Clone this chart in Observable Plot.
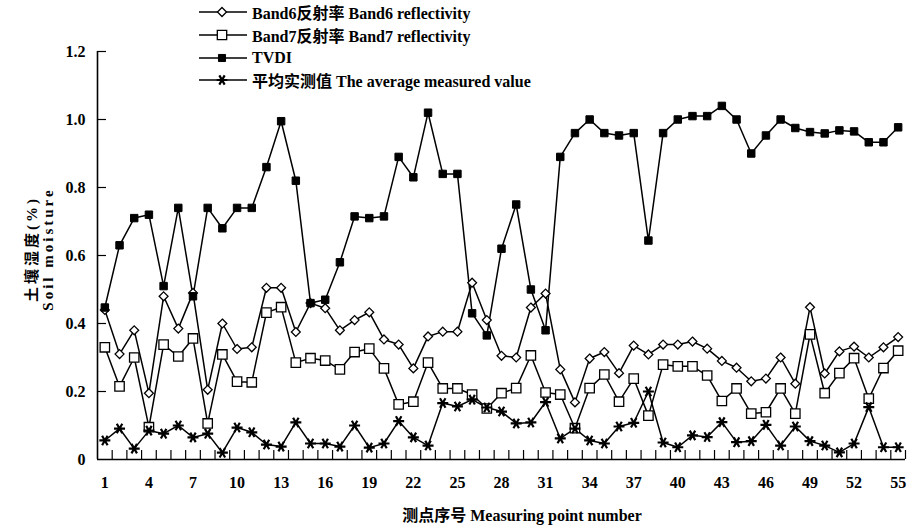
<!DOCTYPE html>
<html><head><meta charset="utf-8">
<script src="https://cdn.jsdelivr.net/npm/d3@7"></script>
<script src="https://cdn.jsdelivr.net/npm/@observablehq/plot@0.6"></script>
<style>
body{margin:0;background:#fff;}
#wrap{position:relative;width:909px;height:526px;font-family:"Liberation Serif","Times New Roman","Noto Sans CJK SC",serif;font-weight:bold;color:#000;}
.legend{position:absolute;left:197px;top:1px;}
.lrow{display:flex;align-items:center;height:22.7px;font-size:16px;white-space:nowrap;}
.lrow svg{margin-right:3px;}
.xtitle{position:absolute;left:522px;top:514px;transform:translate(-50%,-50%);font-size:16px;white-space:nowrap;}
.ytitle{position:absolute;left:40px;top:249px;transform:translate(-50%,-50%) rotate(-90deg);font-size:15px;line-height:16px;letter-spacing:3px;text-align:center;white-space:nowrap;}
</style></head><body><div id="wrap"></div>
<script>
// Measuring point numbers (categories)
const pointNumbers = d3.range(1, 56);
const xTickLabels = [1, 4, 7, 10, 13, 16, 19, 22, 25, 28, 31, 34, 37, 40, 43, 46, 49, 52, 55];
const yTickValues = [0, 0.2, 0.4, 0.6, 0.8, 1.0, 1.2];

const band6 = [0.44,0.31,0.38,0.195,0.48,0.385,0.49,0.205,0.40,0.325,
  0.33,0.505,0.505,0.375,0.46,0.445,0.38,0.41,0.433,0.353,
  0.338,0.268,0.362,0.376,0.376,0.52,0.41,0.305,0.30,0.447,
  0.488,0.265,0.168,0.297,0.316,0.254,0.335,0.309,0.338,0.338,
  0.347,0.326,0.29,0.27,0.23,0.238,0.30,0.223,0.448,0.253,
  0.318,0.332,0.30,0.33,0.36];
const band7 = [0.33,0.215,0.30,0.095,0.338,0.303,0.356,0.106,0.309,0.229,
  0.227,0.432,0.448,0.285,0.298,0.291,0.265,0.316,0.326,0.268,
  0.162,0.17,0.285,0.209,0.209,0.191,0.15,0.195,0.21,0.306,
  0.197,0.191,0.092,0.21,0.25,0.17,0.238,0.129,0.279,0.274,
  0.274,0.247,0.172,0.209,0.135,0.139,0.209,0.135,0.368,0.195,
  0.254,0.298,0.179,0.269,0.32];
const tvdi = [0.447,0.63,0.71,0.72,0.51,0.74,0.48,0.74,0.68,0.74,
  0.74,0.86,0.995,0.82,0.46,0.47,0.58,0.715,0.71,0.715,
  0.89,0.83,1.02,0.84,0.84,0.43,0.365,0.62,0.75,0.50,
  0.38,0.89,0.96,1.0,0.96,0.953,0.96,0.644,0.96,1.0,
  1.01,1.01,1.04,1.0,0.90,0.953,1.0,0.975,0.963,0.959,
  0.968,0.965,0.933,0.933,0.977];
const measured = [0.056,0.091,0.032,0.085,0.076,0.10,0.065,0.076,0.02,0.094,
  0.08,0.044,0.038,0.109,0.047,0.047,0.038,0.10,0.035,0.047,
  0.113,0.065,0.041,0.166,0.156,0.176,0.153,0.141,0.106,0.109,
  0.169,0.062,0.091,0.056,0.047,0.097,0.108,0.20,0.05,0.036,
  0.071,0.066,0.11,0.051,0.054,0.102,0.041,0.097,0.054,0.041,
  0.021,0.047,0.154,0.036,0.036];

const seriesNames = ["Band6反射率 Band6 reflectivity", "Band7反射率 Band7 reflectivity", "TVDI", "平均实测值 The average measured value"];

const W = 909, H = 526;
const mL = 97, mR = 4, mT = 51, mB = 67;
const plotW = W - mL - mR, plotH = H - mT - mB;
const xDomain = [0.5, 55.5];
const xBoundaries = d3.range(1.5, 56, 1);

const rows = vals => pointNumbers.map((p, i) => ({p, v: vals[i]}));

const series = [
  {vals: band7, symbol: "square", fill: "white", r: 5.3, sw: 1.3},
  {vals: band6, symbol: "diamond2", fill: "white", r: 4.0, sw: 1.3},
  {vals: tvdi, symbol: "square", fill: "black", r: 4.2, sw: 1},
  {vals: measured, symbol: "asterisk", fill: "none", r: 5.2, sw: 2.2, rotate: 90}
];

const marks = [
  Plot.axisX({ticks: xTickLabels, tickSize: 0, tickPadding: 17, label: null, fontSize: 16}),
  Plot.axisY({ticks: yTickValues, tickSize: 0, tickPadding: 12, label: null, fontSize: 16,
    tickFormat: d => d === 0 ? "0" : d.toFixed(1)}),
  Plot.tickX(xBoundaries, {x: d => d, insetTop: plotH - 9, strokeWidth: 1.2}),
  Plot.tickY(yTickValues.filter(d => d > 0), {y: d => d, insetRight: plotW - 9, strokeWidth: 1.2}),
  Plot.ruleX([xDomain[0]], {strokeWidth: 1.6}),
  Plot.ruleY([0], {strokeWidth: 1.6})
];
for (const s of series) {
  const data = rows(s.vals);
  marks.push(Plot.line(data, {x: "p", y: "v", stroke: "black", strokeWidth: 1.5}));
}
for (const s of series) {
  const data = rows(s.vals);
  const opts = {x: "p", y: "v", symbol: () => s.symbol, r: s.r, stroke: "black", strokeWidth: s.sw};
  opts.fill = s.fill;
  if (s.rotate) opts.rotate = s.rotate;
  marks.push(Plot.dot(data, opts));
}

const chart = Plot.plot({
  width: W, height: H,
  marginLeft: mL, marginRight: mR, marginTop: mT, marginBottom: mB,
  x: {domain: xDomain},
  y: {domain: [0, 1.2]},
  symbol: {type: "identity"},
  style: {fontFamily: '"Liberation Serif","Times New Roman","Noto Sans CJK SC",serif', fontWeight: "bold", color: "black", background: "white"},
  marks
});

const wrap = document.getElementById("wrap");
wrap.appendChild(chart);

// Legend
const legend = document.createElement("div");
legend.className = "legend";
const legendSymbols = [
  {type: d3.symbolDiamond2, size: 52, fill: "white", sw: 1.3},
  {type: d3.symbolSquare, size: 88, fill: "white", sw: 1.3},
  {type: d3.symbolSquare, size: 50, fill: "black", sw: 1},
  {type: d3.symbolAsterisk, size: 80, fill: "none", sw: 2.2, rotate: 90}
];
seriesNames.forEach((name, i) => {
  const row = document.createElement("div");
  row.className = "lrow";
  const sym = legendSymbols[i];
  const svg = d3.create("svg").attr("width", 52).attr("height", 18);
  svg.append("line").attr("x1", 2).attr("x2", 50).attr("y1", 9).attr("y2", 9).attr("stroke", "black").attr("stroke-width", 1.5);
  svg.append("path").attr("d", d3.symbol(sym.type, sym.size)())
    .attr("transform", `translate(25,9)${sym.rotate ? ` rotate(${sym.rotate})` : ""}`)
    .attr("fill", sym.fill).attr("stroke", "black").attr("stroke-width", sym.sw);
  row.appendChild(svg.node());
  const span = document.createElement("span");
  span.textContent = name;
  row.appendChild(span);
  legend.appendChild(row);
});
wrap.appendChild(legend);

const xt = document.createElement("div");
xt.className = "xtitle";
xt.textContent = "测点序号 Measuring point number";
wrap.appendChild(xt);

const yt = document.createElement("div");
yt.className = "ytitle";
yt.innerHTML = "土壤湿度(%)<br>Soil moisture";
wrap.appendChild(yt);
</script>
</body></html>
